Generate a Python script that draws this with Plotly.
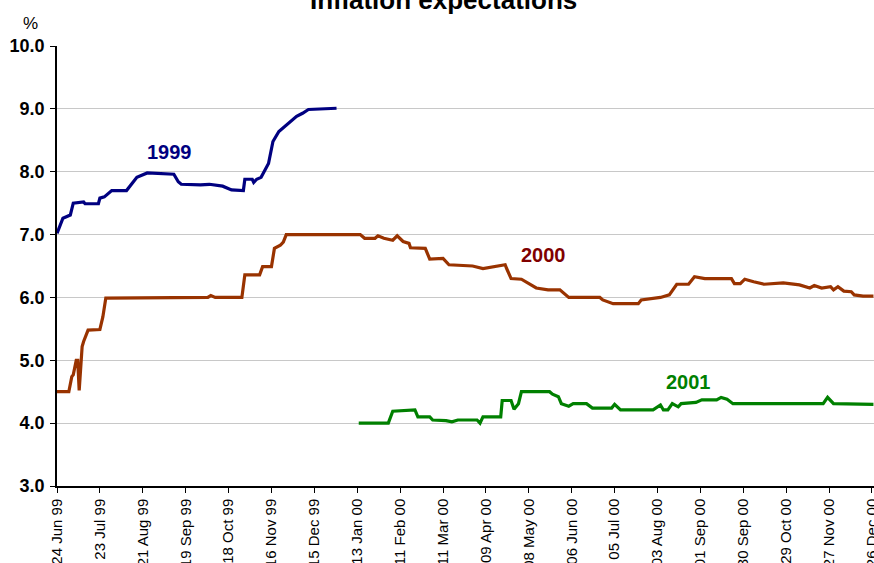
import plotly.graph_objects as go

# ---- data ----
dates_1999 = ["1999-06-24", "1999-06-28", "1999-07-03", "1999-07-05", "1999-07-12", "1999-07-13",
              "1999-07-22", "1999-07-23", "1999-07-26", "1999-07-31", "1999-08-10", "1999-08-13",
              "1999-08-17", "1999-08-24", "1999-09-11", "1999-09-14", "1999-09-16", "1999-09-29",
              "1999-10-05", "1999-10-14", "1999-10-20", "1999-10-28", "1999-10-29", "1999-11-03",
              "1999-11-04", "1999-11-06", "1999-11-09", "1999-11-14", "1999-11-17", "1999-11-21",
              "1999-11-26", "1999-12-03", "1999-12-07", "1999-12-11", "1999-12-30"]
values_1999 = [7.02, 7.26, 7.31, 7.50, 7.52, 7.49,
               7.49, 7.58, 7.60, 7.70, 7.70, 7.79,
               7.91, 7.98, 7.96, 7.84, 7.80, 7.79,
               7.80, 7.77, 7.71, 7.70, 7.88, 7.88,
               7.83, 7.88, 7.91, 8.13, 8.48, 8.64,
               8.74, 8.88, 8.93, 8.99, 9.01]

dates_2000 = ["1999-06-24", "1999-07-02", "1999-07-04", "1999-07-05", "1999-07-07", "1999-07-08",
              "1999-07-09", "1999-07-11", "1999-07-12", "1999-07-15", "1999-07-23", "1999-07-25",
              "1999-07-27", "1999-10-04", "1999-10-06", "1999-10-09", "1999-10-27", "1999-10-29",
              "1999-11-08", "1999-11-10", "1999-11-16", "1999-11-18", "1999-11-22", "1999-11-24",
              "1999-11-26", "2000-01-15", "2000-01-18", "2000-01-25", "2000-01-27", "2000-01-31",
              "2000-02-06", "2000-02-09", "2000-02-13", "2000-02-17", "2000-02-18", "2000-02-28",
              "2000-03-02", "2000-03-11", "2000-03-15", "2000-03-31", "2000-04-07", "2000-04-16",
              "2000-04-22", "2000-04-23", "2000-04-26", "2000-05-03", "2000-05-13", "2000-05-21",
              "2000-05-29", "2000-06-04", "2000-06-25", "2000-06-27", "2000-07-04", "2000-07-21",
              "2000-07-23", "2000-08-05", "2000-08-11", "2000-08-16", "2000-08-24", "2000-08-28",
              "2000-09-04", "2000-09-22", "2000-09-24", "2000-09-28", "2000-10-01", "2000-10-07",
              "2000-10-14", "2000-10-27", "2000-11-07", "2000-11-14", "2000-11-17", "2000-11-22",
              "2000-11-28", "2000-11-30", "2000-12-03", "2000-12-07", "2000-12-12", "2000-12-14",
              "2000-12-20", "2000-12-27"]
values_2000 = [4.50, 4.50, 4.74, 4.77, 5.00, 5.00,
               4.52, 5.22, 5.30, 5.48, 5.49, 5.69,
               5.99, 6.00, 6.03, 6.00, 6.00, 6.36,
               6.36, 6.49, 6.49, 6.78, 6.83, 6.88,
               7.00, 7.00, 6.94, 6.94, 6.98, 6.94,
               6.91, 6.98, 6.89, 6.86, 6.79, 6.78,
               6.61, 6.62, 6.52, 6.50, 6.46, 6.50,
               6.52, 6.46, 6.30, 6.29, 6.15, 6.12,
               6.12, 6.00, 6.00, 5.96, 5.90, 5.90,
               5.96, 6.00, 6.04, 6.21, 6.21, 6.33,
               6.30, 6.30, 6.22, 6.22, 6.29, 6.25,
               6.21, 6.23, 6.20, 6.15, 6.19, 6.15,
               6.17, 6.12, 6.17, 6.10, 6.09, 6.04,
               6.02, 6.02]

dates_2001 = ["2000-01-14", "2000-02-03", "2000-02-06", "2000-02-21", "2000-02-23", "2000-03-02",
              "2000-03-04", "2000-03-13", "2000-03-17", "2000-03-21", "2000-04-03", "2000-04-05",
              "2000-04-07", "2000-04-19", "2000-04-20", "2000-04-26", "2000-04-28", "2000-05-01",
              "2000-05-03", "2000-05-22", "2000-05-24", "2000-05-28", "2000-05-30", "2000-06-04",
              "2000-06-07", "2000-06-16", "2000-06-20", "2000-07-03", "2000-07-05", "2000-07-09",
              "2000-07-31", "2000-08-05", "2000-08-07", "2000-08-10", "2000-08-13", "2000-08-17",
              "2000-08-19", "2000-08-29", "2000-09-02", "2000-09-12", "2000-09-15", "2000-09-19",
              "2000-09-23", "2000-11-23", "2000-11-26", "2000-11-30", "2000-12-27"]
values_2001 = [4.00, 4.00, 4.19, 4.21, 4.10, 4.10,
               4.05, 4.04, 4.02, 4.05, 4.05, 4.00,
               4.10, 4.10, 4.36, 4.36, 4.22, 4.31,
               4.50, 4.50, 4.46, 4.42, 4.31, 4.27,
               4.31, 4.31, 4.24, 4.24, 4.30, 4.21,
               4.21, 4.29, 4.21, 4.21, 4.31, 4.26,
               4.31, 4.33, 4.37, 4.37, 4.41, 4.38,
               4.31, 4.31, 4.41, 4.31, 4.30]

tick_dates = ["1999-06-24", "1999-07-23", "1999-08-21", "1999-09-19", "1999-10-18", "1999-11-16",
              "1999-12-15", "2000-01-13", "2000-02-11", "2000-03-11", "2000-04-09", "2000-05-08",
              "2000-06-06", "2000-07-05", "2000-08-03", "2000-09-01", "2000-09-30", "2000-10-29",
              "2000-11-27", "2000-12-26"]
tick_labels = ["24 Jun 99", "23 Jul 99", "21 Aug 99", "19 Sep 99", "18 Oct 99", "16 Nov 99",
               "15 Dec 99", "13 Jan 00", "11 Feb 00", "11 Mar 00", "09 Apr 00", "08 May 00",
               "06 Jun 00", "05 Jul 00", "03 Aug 00", "01 Sep 00", "30 Sep 00", "29 Oct 00",
               "27 Nov 00", "26 Dec 00"]

y_ticks = [3, 4, 5, 6, 7, 8, 9, 10]

FONT = "Liberation Sans, Arial, sans-serif"

fig = go.Figure()
fig.add_trace(go.Scatter(x=dates_1999, y=values_1999, mode="lines",
                         line=dict(color="#000080", width=3.2), name="1999"))
fig.add_trace(go.Scatter(x=dates_2000, y=values_2000, mode="lines",
                         line=dict(color="#993300", width=3.2), name="2000"))
fig.add_trace(go.Scatter(x=dates_2001, y=values_2001, mode="lines",
                         line=dict(color="#008000", width=3.2), name="2001"))

fig.update_layout(
    width=874, height=563,
    margin=dict(l=57, r=0, t=46, b=77, autoexpand=False),
    paper_bgcolor="white", plot_bgcolor="white",
    showlegend=False,
    font=dict(family=FONT, color="black"),
    xaxis=dict(
        type="date",
        range=["1999-06-24", "2000-12-27 09:00"],
        tickmode="array", tickvals=tick_dates, ticktext=tick_labels,
        tickangle=-90, tickfont=dict(size=15, family=FONT, color="black"),
        ticklabeloverflow="allow",
        ticks="outside", ticklen=5, tickcolor="black",
        showline=True, linecolor="black", linewidth=1.5,
        showgrid=False, zeroline=False, automargin=False,
    ),
    yaxis=dict(
        range=[3, 10],
        tickmode="array", tickvals=y_ticks,
        tickformat=".1f",
        tickfont=dict(size=18, family=FONT, color="black", weight="bold"),
        ticks="outside", ticklen=5, tickcolor="black",
        ticklabelstandoff=2,
        showline=True, linecolor="black", linewidth=1.5,
        showgrid=True, gridcolor="#c8c8c8", gridwidth=1,
        zeroline=False, automargin=False,
    ),
    annotations=[
        dict(text="<b>Inflation expectations</b>", xref="paper", yref="paper",
             x=0.4725, y=1.104, xanchor="center", yanchor="middle", showarrow=False,
             font=dict(size=26, family=FONT, color="black")),
        dict(text="%", xref="paper", yref="paper", x=-0.033, y=1.05,
             xanchor="center", yanchor="middle", showarrow=False,
             font=dict(size=17, family=FONT, color="black")),
        dict(text="<b>1999</b>", x="1999-09-08", y=8.31, xref="x", yref="y",
             showarrow=False, font=dict(size=20, family=FONT, color="#000080")),
        dict(text="<b>2000</b>", x="2000-05-18", y=6.675, xref="x", yref="y",
             showarrow=False, font=dict(size=20, family=FONT, color="#800000")),
        dict(text="<b>2001</b>", x="2000-08-24", y=4.655, xref="x", yref="y",
             showarrow=False, font=dict(size=20, family=FONT, color="#008000")),
    ],
)

fig.write_html("out.html",
               config={"displayModeBar": False},
               post_script="document.body.style.margin='0';document.body.style.padding='0';"
                           "document.body.style.overflow='hidden';")
